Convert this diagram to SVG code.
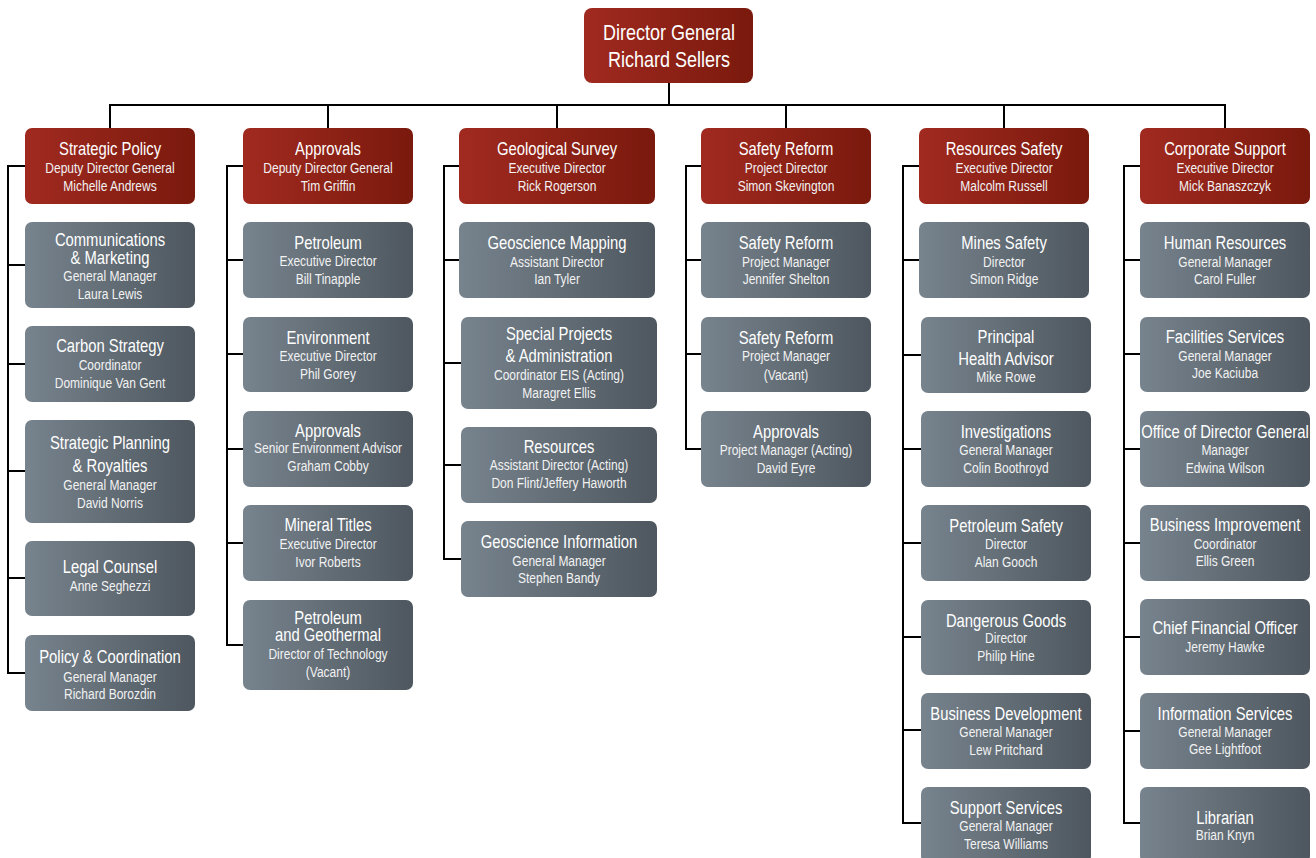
<svg xmlns="http://www.w3.org/2000/svg" width="1316" height="858" viewBox="0 0 1316 858">
<defs>
<linearGradient id="red" x1="0" y1="0" x2="1" y2="0"><stop offset="0" stop-color="#a12a20"/><stop offset="1" stop-color="#7a190d"/></linearGradient>
<linearGradient id="grey" x1="0" y1="0" x2="1" y2="0"><stop offset="0" stop-color="#77838d"/><stop offset="1" stop-color="#4e575f"/></linearGradient>
<style>
.r{fill:url(#red)}
.g{fill:url(#grey)}
text{font-family:'Liberation Sans',Arial,sans-serif;fill:#fff;text-anchor:middle;transform-box:fill-box;transform-origin:center;transform:scaleX(0.8)}
.t{font-size:18.5px}
.s{font-size:15px;fill:#f2f2f2}
.top{font-size:22.5px}
.c line{stroke:#000;stroke-width:2}
</style>
</defs>
<g class="c" id="connectors">
<line x1="669" y1="82" x2="669" y2="106"/>
<line x1="109" y1="105" x2="1226" y2="105"/>
<line x1="110" y1="105" x2="110" y2="128"/>
<line x1="328" y1="105" x2="328" y2="128"/>
<line x1="557" y1="105" x2="557" y2="128"/>
<line x1="786" y1="105" x2="786" y2="128"/>
<line x1="1004" y1="105" x2="1004" y2="128"/>
<line x1="1225" y1="105" x2="1225" y2="128"/>
<line x1="8" y1="165" x2="8" y2="674"/>
<line x1="7" y1="166" x2="25" y2="166"/>
<line x1="8" y1="265" x2="25" y2="265"/>
<line x1="8" y1="364" x2="25" y2="364"/>
<line x1="8" y1="471" x2="25" y2="471"/>
<line x1="8" y1="578" x2="25" y2="578"/>
<line x1="7" y1="673" x2="25" y2="673"/>
<line x1="227" y1="165" x2="227" y2="646"/>
<line x1="226" y1="166" x2="243" y2="166"/>
<line x1="227" y1="260" x2="243" y2="260"/>
<line x1="227" y1="354" x2="243" y2="354"/>
<line x1="227" y1="449" x2="243" y2="449"/>
<line x1="227" y1="543" x2="243" y2="543"/>
<line x1="226" y1="645" x2="243" y2="645"/>
<line x1="444" y1="165" x2="444" y2="560"/>
<line x1="443" y1="166" x2="459" y2="166"/>
<line x1="444" y1="260" x2="459" y2="260"/>
<line x1="444" y1="363" x2="461" y2="363"/>
<line x1="444" y1="465" x2="461" y2="465"/>
<line x1="443" y1="559" x2="461" y2="559"/>
<line x1="686" y1="165" x2="686" y2="450"/>
<line x1="685" y1="166" x2="701" y2="166"/>
<line x1="686" y1="260" x2="701" y2="260"/>
<line x1="686" y1="354" x2="701" y2="354"/>
<line x1="685" y1="449" x2="701" y2="449"/>
<line x1="903" y1="165" x2="903" y2="824"/>
<line x1="902" y1="166" x2="919" y2="166"/>
<line x1="903" y1="260" x2="919" y2="260"/>
<line x1="903" y1="355" x2="921" y2="355"/>
<line x1="903" y1="449" x2="921" y2="449"/>
<line x1="903" y1="543" x2="921" y2="543"/>
<line x1="903" y1="637" x2="921" y2="637"/>
<line x1="903" y1="730" x2="921" y2="730"/>
<line x1="902" y1="823" x2="921" y2="823"/>
<line x1="1124" y1="165" x2="1124" y2="824"/>
<line x1="1123" y1="166" x2="1140" y2="166"/>
<line x1="1124" y1="260" x2="1140" y2="260"/>
<line x1="1124" y1="354" x2="1140" y2="354"/>
<line x1="1124" y1="449" x2="1140" y2="449"/>
<line x1="1124" y1="543" x2="1140" y2="543"/>
<line x1="1124" y1="637" x2="1140" y2="637"/>
<line x1="1124" y1="731" x2="1140" y2="731"/>
<line x1="1123" y1="823" x2="1140" y2="823"/>
</g>
<g id="director-general"><rect class="r" x="584" y="8" width="169" height="75" rx="8"/><text class="top" x="669" y="40">Director General</text><text class="top" x="669" y="67">Richard Sellers</text></g>

<g id="strategic-policy"><rect class="r" x="25" y="128" width="170" height="76" rx="7"/><text class="t" x="110" y="155">Strategic Policy</text><text class="s" x="110" y="173">Deputy Director General</text><text class="s" x="110" y="191">Michelle Andrews</text></g>
<g id="comms"><rect class="g" x="25" y="222" width="170" height="86" rx="7"/><text class="t" x="110" y="246">Communications</text><text class="t" x="110" y="264">&amp; Marketing</text><text class="s" x="110" y="281">General Manager</text><text class="s" x="110" y="299">Laura Lewis</text></g>
<g id="carbon"><rect class="g" x="25" y="326" width="170" height="76" rx="7"/><text class="t" x="110" y="352">Carbon Strategy</text><text class="s" x="110" y="370">Coordinator</text><text class="s" x="110" y="388">Dominique Van Gent</text></g>
<g id="strat-planning"><rect class="g" x="25" y="420" width="170" height="103" rx="7"/><text class="t" x="110" y="449">Strategic Planning</text><text class="t" x="110" y="472">&amp; Royalties</text><text class="s" x="110" y="490">General Manager</text><text class="s" x="110" y="508">David Norris</text></g>
<g id="legal"><rect class="g" x="25" y="541" width="170" height="75" rx="7"/><text class="t" x="110" y="573">Legal Counsel</text><text class="s" x="110" y="591">Anne Seghezzi</text></g>
<g id="policy-coord"><rect class="g" x="25" y="635" width="170" height="76" rx="7"/><text class="t" x="110" y="663">Policy &amp; Coordination</text><text class="s" x="110" y="682">General Manager</text><text class="s" x="110" y="699">Richard Borozdin</text></g>

<g id="approvals"><rect class="r" x="243" y="128" width="170" height="76" rx="7"/><text class="t" x="328" y="155">Approvals</text><text class="s" x="328" y="173">Deputy Director General</text><text class="s" x="328" y="191">Tim Griffin</text></g>
<g id="petroleum"><rect class="g" x="243" y="222" width="170" height="76" rx="7"/><text class="t" x="328" y="249">Petroleum</text><text class="s" x="328" y="266">Executive Director</text><text class="s" x="328" y="284">Bill Tinapple</text></g>
<g id="environment"><rect class="g" x="243" y="317" width="170" height="75" rx="7"/><text class="t" x="328" y="344">Environment</text><text class="s" x="328" y="361">Executive Director</text><text class="s" x="328" y="379">Phil Gorey</text></g>
<g id="approvals-sea"><rect class="g" x="243" y="411" width="170" height="76" rx="7"/><text class="t" x="328" y="437">Approvals</text><text class="s" x="328" y="453">Senior Environment Advisor</text><text class="s" x="328" y="471">Graham Cobby</text></g>
<g id="mineral-titles"><rect class="g" x="243" y="505" width="170" height="76" rx="7"/><text class="t" x="328" y="531">Mineral Titles</text><text class="s" x="328" y="549">Executive Director</text><text class="s" x="328" y="567">Ivor Roberts</text></g>
<g id="pet-geo"><rect class="g" x="243" y="600" width="170" height="90" rx="7"/><text class="t" x="328" y="624">Petroleum</text><text class="t" x="328" y="641">and Geothermal</text><text class="s" x="328" y="659">Director of Technology</text><text class="s" x="328" y="677">(Vacant)</text></g>

<g id="geo-survey"><rect class="r" x="459" y="128" width="196" height="76" rx="7"/><text class="t" x="557" y="155">Geological Survey</text><text class="s" x="557" y="173">Executive Director</text><text class="s" x="557" y="191">Rick Rogerson</text></g>
<g id="geo-mapping"><rect class="g" x="459" y="222" width="196" height="76" rx="7"/><text class="t" x="557" y="249">Geoscience Mapping</text><text class="s" x="557" y="267">Assistant Director</text><text class="s" x="557" y="284">Ian Tyler</text></g>
<g id="special-projects"><rect class="g" x="461" y="317" width="196" height="92" rx="7"/><text class="t" x="559" y="340">Special Projects</text><text class="t" x="559" y="362">&amp; Administration</text><text class="s" x="559" y="380">Coordinator EIS (Acting)</text><text class="s" x="559" y="398">Maragret Ellis</text></g>
<g id="resources"><rect class="g" x="461" y="427" width="196" height="76" rx="7"/><text class="t" x="559" y="453">Resources</text><text class="s" x="559" y="470">Assistant Director (Acting)</text><text class="s" x="559" y="488">Don Flint/Jeffery Haworth</text></g>
<g id="geo-info"><rect class="g" x="461" y="521" width="196" height="76" rx="7"/><text class="t" x="559" y="548">Geoscience Information</text><text class="s" x="559" y="566">General Manager</text><text class="s" x="559" y="583">Stephen Bandy</text></g>

<g id="safety-reform"><rect class="r" x="701" y="128" width="170" height="76" rx="7"/><text class="t" x="786" y="155">Safety Reform</text><text class="s" x="786" y="173">Project Director</text><text class="s" x="786" y="191">Simon Skevington</text></g>
<g id="sr-1"><rect class="g" x="701" y="222" width="170" height="76" rx="7"/><text class="t" x="786" y="249">Safety Reform</text><text class="s" x="786" y="267">Project Manager</text><text class="s" x="786" y="284">Jennifer Shelton</text></g>
<g id="sr-2"><rect class="g" x="701" y="317" width="170" height="75" rx="7"/><text class="t" x="786" y="344">Safety Reform</text><text class="s" x="786" y="361">Project Manager</text><text class="s" x="786" y="380">(Vacant)</text></g>
<g id="sr-approvals"><rect class="g" x="701" y="411" width="170" height="76" rx="7"/><text class="t" x="786" y="438">Approvals</text><text class="s" x="786" y="455">Project Manager (Acting)</text><text class="s" x="786" y="473">David Eyre</text></g>

<g id="resources-safety"><rect class="r" x="919" y="128" width="170" height="76" rx="7"/><text class="t" x="1004" y="155">Resources Safety</text><text class="s" x="1004" y="173">Executive Director</text><text class="s" x="1004" y="191">Malcolm Russell</text></g>
<g id="mines-safety"><rect class="g" x="919" y="222" width="170" height="76" rx="7"/><text class="t" x="1004" y="249">Mines Safety</text><text class="s" x="1004" y="267">Director</text><text class="s" x="1004" y="284">Simon Ridge</text></g>
<g id="pha"><rect class="g" x="921" y="317" width="170" height="76" rx="7"/><text class="t" x="1006" y="343">Principal</text><text class="t" x="1006" y="365">Health Advisor</text><text class="s" x="1006" y="382">Mike Rowe</text></g>
<g id="investigations"><rect class="g" x="921" y="411" width="170" height="76" rx="7"/><text class="t" x="1006" y="438">Investigations</text><text class="s" x="1006" y="455">General Manager</text><text class="s" x="1006" y="473">Colin Boothroyd</text></g>
<g id="pet-safety"><rect class="g" x="921" y="505" width="170" height="76" rx="7"/><text class="t" x="1006" y="532">Petroleum Safety</text><text class="s" x="1006" y="549">Director</text><text class="s" x="1006" y="567">Alan Gooch</text></g>
<g id="dangerous-goods"><rect class="g" x="921" y="600" width="170" height="75" rx="7"/><text class="t" x="1006" y="627">Dangerous Goods</text><text class="s" x="1006" y="643">Director</text><text class="s" x="1006" y="661">Philip Hine</text></g>
<g id="bus-dev"><rect class="g" x="921" y="693" width="170" height="76" rx="7"/><text class="t" x="1006" y="720">Business Development</text><text class="s" x="1006" y="737">General Manager</text><text class="s" x="1006" y="755">Lew Pritchard</text></g>
<g id="support-services"><rect class="g" x="921" y="787" width="170" height="76" rx="7"/><text class="t" x="1006" y="814">Support Services</text><text class="s" x="1006" y="831">General Manager</text><text class="s" x="1006" y="849">Teresa Williams</text></g>

<g id="corporate-support"><rect class="r" x="1140" y="128" width="170" height="76" rx="7"/><text class="t" x="1225" y="155">Corporate Support</text><text class="s" x="1225" y="173">Executive Director</text><text class="s" x="1225" y="191">Mick Banaszczyk</text></g>
<g id="hr"><rect class="g" x="1140" y="222" width="170" height="76" rx="7"/><text class="t" x="1225" y="249">Human Resources</text><text class="s" x="1225" y="267">General Manager</text><text class="s" x="1225" y="284">Carol Fuller</text></g>
<g id="facilities"><rect class="g" x="1140" y="317" width="170" height="75" rx="7"/><text class="t" x="1225" y="343">Facilities Services</text><text class="s" x="1225" y="361">General Manager</text><text class="s" x="1225" y="378">Joe Kaciuba</text></g>
<g id="odg"><rect class="g" x="1140" y="411" width="170" height="76" rx="7"/><text class="t" x="1225" y="438">Office of Director General</text><text class="s" x="1225" y="455">Manager</text><text class="s" x="1225" y="473">Edwina Wilson</text></g>
<g id="bus-imp"><rect class="g" x="1140" y="505" width="170" height="76" rx="7"/><text class="t" x="1225" y="531">Business Improvement</text><text class="s" x="1225" y="549">Coordinator</text><text class="s" x="1225" y="566">Ellis Green</text></g>
<g id="cfo"><rect class="g" x="1140" y="599" width="170" height="76" rx="7"/><text class="t" x="1225" y="634">Chief Financial Officer</text><text class="s" x="1225" y="652">Jeremy Hawke</text></g>
<g id="info-services"><rect class="g" x="1140" y="693" width="170" height="76" rx="7"/><text class="t" x="1225" y="720">Information Services</text><text class="s" x="1225" y="737">General Manager</text><text class="s" x="1225" y="754">Gee Lightfoot</text></g>
<g id="librarian"><rect class="g" x="1140" y="787" width="170" height="76" rx="7"/><text class="t" x="1225" y="824">Librarian</text><text class="s" x="1225" y="840">Brian Knyn</text></g>
</svg>
